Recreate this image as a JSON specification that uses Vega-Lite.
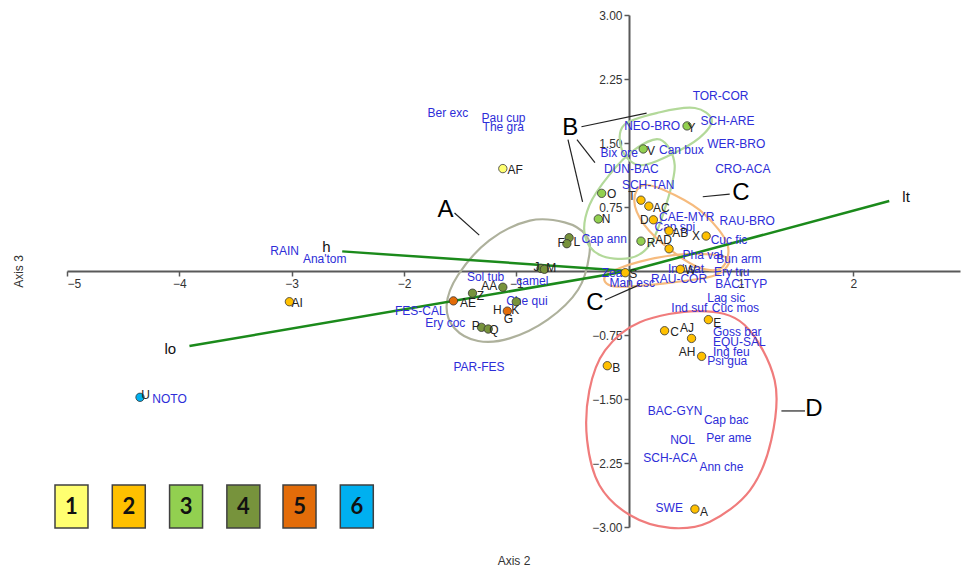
{
  "$schema": "https://vega.github.io/schema/vega-lite/v6.json",
  "width": 893,
  "height": 512,
  "autosize": {"type": "none"},
  "padding": {"left": 67, "top": 15, "right": 1, "bottom": 43},
  "background": "white",
  "config": {"view": {"stroke": null}, "font": "Liberation Sans"},
  "datasets": {
    "pts": [
      {"id": "AF", "x": -1.12, "y": 1.2, "g": "1"},
      {"id": "Y", "x": 0.52, "y": 1.7, "g": "3"},
      {"id": "V", "x": 0.13, "y": 1.43, "g": "3"},
      {"id": "O", "x": -0.24, "y": 0.91, "g": "3"},
      {"id": "N", "x": -0.27, "y": 0.61, "g": "3"},
      {"id": "L", "x": -0.53, "y": 0.39, "g": "4"},
      {"id": "F", "x": -0.55, "y": 0.32, "g": "4"},
      {"id": "R", "x": 0.11, "y": 0.35, "g": "3"},
      {"id": "T", "x": 0.11, "y": 0.83, "g": "2"},
      {"id": "AC", "x": 0.18, "y": 0.76, "g": "2"},
      {"id": "D", "x": 0.22, "y": 0.6, "g": "2"},
      {"id": "AB", "x": 0.36, "y": 0.47, "g": "2"},
      {"id": "X", "x": 0.69, "y": 0.41, "g": "2"},
      {"id": "AD", "x": 0.36, "y": 0.26, "g": "2"},
      {"id": "W", "x": 0.46, "y": 0.02, "g": "2"},
      {"id": "S", "x": -0.03, "y": -0.02, "g": "2"},
      {"id": "J", "x": -0.78, "y": 0.03, "g": "4"},
      {"id": "M", "x": -0.75, "y": 0.02, "g": "4"},
      {"id": "AA", "x": -1.12, "y": -0.19, "g": "4"},
      {"id": "Z", "x": -1.39, "y": -0.26, "g": "4"},
      {"id": "AE", "x": -1.56, "y": -0.35, "g": "5"},
      {"id": "K", "x": -1.0, "y": -0.36, "g": "4"},
      {"id": "H", "x": -1.08, "y": -0.47, "g": "5"},
      {"id": "P", "x": -1.31, "y": -0.66, "g": "4"},
      {"id": "Q", "x": -1.25, "y": -0.68, "g": "4"},
      {"id": "AI", "x": -3.02, "y": -0.36, "g": "2"},
      {"id": "U", "x": -4.35, "y": -1.48, "g": "6"},
      {"id": "C", "x": 0.32, "y": -0.7, "g": "2"},
      {"id": "AJ", "x": 0.56, "y": -0.79, "g": "2"},
      {"id": "E", "x": 0.71, "y": -0.57, "g": "2"},
      {"id": "AH", "x": 0.65, "y": -1.0, "g": "2"},
      {"id": "B", "x": -0.19, "y": -1.11, "g": "2"},
      {"id": "A", "x": 0.59, "y": -2.79, "g": "2"}
    ],
    "plab": [
      {"t": "AF", "x": -1.01, "y": 1.18},
      {"t": "Y", "x": 0.56, "y": 1.68},
      {"t": "V", "x": 0.2, "y": 1.41},
      {"t": "O", "x": -0.15, "y": 0.9},
      {"t": "N", "x": -0.2, "y": 0.61},
      {"t": "F", "x": -0.6, "y": 0.33},
      {"t": "L", "x": -0.46, "y": 0.34},
      {"t": "R", "x": 0.2, "y": 0.33},
      {"t": "T", "x": 0.03, "y": 0.88},
      {"t": "AC", "x": 0.29, "y": 0.74},
      {"t": "D", "x": 0.14, "y": 0.6},
      {"t": "AB", "x": 0.46, "y": 0.45},
      {"t": "X", "x": 0.6, "y": 0.41},
      {"t": "AD", "x": 0.31, "y": 0.36},
      {"t": "W", "x": 0.55, "y": 0.01},
      {"t": "S", "x": 0.04, "y": -0.04},
      {"t": "J", "x": -0.82, "y": 0.05},
      {"t": "M", "x": -0.69, "y": 0.04},
      {"t": "AA", "x": -1.24, "y": -0.18},
      {"t": "Z", "x": -1.32, "y": -0.29},
      {"t": "AE", "x": -1.43, "y": -0.38},
      {"t": "H", "x": -1.17, "y": -0.46},
      {"t": "K", "x": -1.01, "y": -0.46},
      {"t": "G", "x": -1.07, "y": -0.56},
      {"t": "P", "x": -1.36, "y": -0.65},
      {"t": "Q", "x": -1.2, "y": -0.69},
      {"t": "AI", "x": -2.95, "y": -0.38},
      {"t": "U", "x": -4.3, "y": -1.45},
      {"t": "C", "x": 0.41, "y": -0.72},
      {"t": "AJ", "x": 0.52, "y": -0.67},
      {"t": "E", "x": 0.79, "y": -0.61},
      {"t": "AH", "x": 0.52, "y": -0.95},
      {"t": "B", "x": -0.11, "y": -1.14},
      {"t": "A", "x": 0.67, "y": -2.83}
    ],
    "sp": [
      {"t": "TOR-COR", "x": 0.57, "y": 2.05},
      {"t": "SCH-ARE", "x": 0.64, "y": 1.76},
      {"t": "NEO-BRO", "x": -0.04, "y": 1.7},
      {"t": "WER-BRO", "x": 0.7, "y": 1.49},
      {"t": "Can bux", "x": 0.27, "y": 1.42},
      {"t": "Bix ore", "x": -0.25, "y": 1.38},
      {"t": "CRO-ACA", "x": 0.77, "y": 1.2},
      {"t": "DUN-BAC", "x": -0.22, "y": 1.2},
      {"t": "SCH-TAN", "x": -0.06, "y": 1.01},
      {"t": "Ber exc", "x": -1.79, "y": 1.85},
      {"t": "Pau cup", "x": -1.31, "y": 1.79},
      {"t": "The gra", "x": -1.3, "y": 1.69},
      {"t": "CAE-MYR", "x": 0.27, "y": 0.63},
      {"t": "Cap spi", "x": 0.23, "y": 0.52},
      {"t": "RAU-BRO", "x": 0.81, "y": 0.59},
      {"t": "Cuc fic", "x": 0.73, "y": 0.36},
      {"t": "Cap ann", "x": -0.42, "y": 0.38},
      {"t": "Pha val", "x": 0.48, "y": 0.19},
      {"t": "Bun arm", "x": 0.78, "y": 0.14},
      {"t": "Ery tru", "x": 0.76, "y": -0.01},
      {"t": "Ind sat", "x": 0.35, "y": 0.02},
      {"t": "RAU-COR", "x": 0.2, "y": -0.09},
      {"t": "BAC-TYP", "x": 0.77, "y": -0.15},
      {"t": "Zea", "x": -0.24, "y": -0.02},
      {"t": "Man esc", "x": -0.17, "y": -0.14},
      {"t": "Lag sic", "x": 0.7, "y": -0.32},
      {"t": "Ind suf", "x": 0.38, "y": -0.43},
      {"t": "Cuc mos", "x": 0.74, "y": -0.43},
      {"t": "Goss bar", "x": 0.75, "y": -0.72},
      {"t": "EQU-SAL", "x": 0.75, "y": -0.83},
      {"t": "Ing feu", "x": 0.75, "y": -0.95},
      {"t": "Psi gua", "x": 0.7, "y": -1.06},
      {"t": "BAC-GYN", "x": 0.17, "y": -1.64},
      {"t": "Cap bac", "x": 0.67, "y": -1.75},
      {"t": "NOL", "x": 0.37, "y": -1.98},
      {"t": "Per ame", "x": 0.69, "y": -1.96},
      {"t": "SCH-ACA", "x": 0.13, "y": -2.19},
      {"t": "Ann che", "x": 0.63, "y": -2.3},
      {"t": "SWE", "x": 0.24, "y": -2.78},
      {"t": "Sol tub", "x": -1.44, "y": -0.07},
      {"t": "camel", "x": -1.0, "y": -0.12},
      {"t": "Che qui", "x": -1.09, "y": -0.35},
      {"t": "FES-CAL", "x": -2.08, "y": -0.47},
      {"t": "Ery coc", "x": -1.81, "y": -0.61},
      {"t": "PAR-FES", "x": -1.56, "y": -1.13},
      {"t": "NOTO", "x": -4.24, "y": -1.5},
      {"t": "RAIN", "x": -3.19, "y": 0.23},
      {"t": "Ana'tom", "x": -2.9, "y": 0.14}
    ],
    "ell": [
      {"e": "A", "o": 1, "x": -0.88, "y": 0.59},
      {"e": "A", "o": 2, "x": -0.57, "y": 0.57},
      {"e": "A", "o": 3, "x": -0.38, "y": 0.42},
      {"e": "A", "o": 4, "x": -0.35, "y": 0.19},
      {"e": "A", "o": 5, "x": -0.45, "y": -0.22},
      {"e": "A", "o": 6, "x": -0.72, "y": -0.57},
      {"e": "A", "o": 7, "x": -1.06, "y": -0.79},
      {"e": "A", "o": 8, "x": -1.34, "y": -0.82},
      {"e": "A", "o": 9, "x": -1.55, "y": -0.67},
      {"e": "A", "o": 10, "x": -1.62, "y": -0.4},
      {"e": "A", "o": 11, "x": -1.52, "y": -0.05},
      {"e": "A", "o": 12, "x": -1.24, "y": 0.36},
      {"e": "B1", "o": 1, "x": -0.04, "y": 1.71},
      {"e": "B1", "o": 2, "x": 0.28, "y": 1.86},
      {"e": "B1", "o": 3, "x": 0.59, "y": 1.91},
      {"e": "B1", "o": 4, "x": 0.74, "y": 1.77},
      {"e": "B1", "o": 5, "x": 0.63, "y": 1.56},
      {"e": "B1", "o": 6, "x": 0.37, "y": 1.36},
      {"e": "B1", "o": 7, "x": 0.1, "y": 1.24},
      {"e": "B1", "o": 8, "x": -0.06, "y": 1.42},
      {"e": "B2", "o": 1, "x": 0.28, "y": 1.54},
      {"e": "B2", "o": 2, "x": 0.41, "y": 1.24},
      {"e": "B2", "o": 3, "x": 0.32, "y": 0.72},
      {"e": "B2", "o": 4, "x": 0.19, "y": 0.31},
      {"e": "B2", "o": 5, "x": 0.01, "y": 0.15},
      {"e": "B2", "o": 6, "x": -0.26, "y": 0.19},
      {"e": "B2", "o": 7, "x": -0.39, "y": 0.42},
      {"e": "B2", "o": 8, "x": -0.35, "y": 0.77},
      {"e": "B2", "o": 9, "x": -0.17, "y": 1.13},
      {"e": "B2", "o": 10, "x": 0.05, "y": 1.42},
      {"e": "C1", "o": 1, "x": 0.14, "y": 1.01},
      {"e": "C1", "o": 2, "x": 0.41, "y": 0.89},
      {"e": "C1", "o": 3, "x": 0.68, "y": 0.66},
      {"e": "C1", "o": 4, "x": 0.88, "y": 0.31},
      {"e": "C1", "o": 5, "x": 0.83, "y": 0.04},
      {"e": "C1", "o": 6, "x": 0.63, "y": 0.04},
      {"e": "C1", "o": 7, "x": 0.37, "y": 0.25},
      {"e": "C1", "o": 8, "x": 0.14, "y": 0.54},
      {"e": "C1", "o": 9, "x": 0.05, "y": 0.83},
      {"e": "C2", "o": 1, "x": -0.2, "y": -0.05},
      {"e": "C2", "o": 2, "x": 0.1, "y": 0.11},
      {"e": "C2", "o": 3, "x": 0.54, "y": 0.2},
      {"e": "C2", "o": 4, "x": 0.88, "y": 0.15},
      {"e": "C2", "o": 5, "x": 0.77, "y": -0.05},
      {"e": "C2", "o": 6, "x": 0.28, "y": -0.15},
      {"e": "C2", "o": 7, "x": -0.13, "y": -0.18},
      {"e": "D", "o": 1, "x": 0.63, "y": -0.47},
      {"e": "D", "o": 2, "x": 1.03, "y": -0.63},
      {"e": "D", "o": 3, "x": 1.3, "y": -1.28},
      {"e": "D", "o": 4, "x": 1.27, "y": -1.98},
      {"e": "D", "o": 5, "x": 1.08, "y": -2.57},
      {"e": "D", "o": 6, "x": 0.72, "y": -2.94},
      {"e": "D", "o": 7, "x": 0.37, "y": -3.01},
      {"e": "D", "o": 8, "x": 0.01, "y": -2.86},
      {"e": "D", "o": 9, "x": -0.26, "y": -2.51},
      {"e": "D", "o": 10, "x": -0.37, "y": -1.98},
      {"e": "D", "o": 11, "x": -0.35, "y": -1.4},
      {"e": "D", "o": 12, "x": -0.21, "y": -0.93},
      {"e": "D", "o": 13, "x": 0.1, "y": -0.6}
    ],
    "vec": [
      {"v": "h", "x": 0, "y": 0, "x2": -2.55, "y2": 0.23},
      {"v": "lo", "x": 0, "y": 0, "x2": -3.91, "y2": -0.88},
      {"v": "lt", "x": 0, "y": 0, "x2": 2.32, "y2": 0.82}
    ],
    "vlab": [
      {"t": "h", "x": -2.69, "y": 0.28},
      {"t": "lo", "x": -4.08, "y": -0.91},
      {"t": "lt", "x": 2.47, "y": 0.87}
    ],
    "glab": [
      {"t": "A", "x": -1.63, "y": 0.72},
      {"t": "B", "x": -0.52, "y": 1.68},
      {"t": "C", "x": 1.0, "y": 0.91},
      {"t": "C", "x": -0.3, "y": -0.38},
      {"t": "D", "x": 1.65, "y": -1.62}
    ],
    "lead": [
      {"x": -1.55, "y": 0.68, "x2": -1.33, "y2": 0.42},
      {"x": -0.42, "y": 1.69, "x2": 0.16, "y2": 1.85},
      {"x": -0.46, "y": 1.54, "x2": -0.3, "y2": 1.27},
      {"x": -0.54, "y": 1.54, "x2": -0.41, "y2": 0.81},
      {"x": 0.66, "y": 0.87, "x2": 0.9, "y2": 0.9},
      {"x": -0.21, "y": -0.34, "x2": 0.1, "y2": -0.16},
      {"x": 1.36, "y": -1.64, "x2": 1.57, "y2": -1.64}
    ],
    "leg": [
      {"g": "1", "x": -4.96, "y": -2.76},
      {"g": "2", "x": -4.45, "y": -2.76},
      {"g": "3", "x": -3.94, "y": -2.76},
      {"g": "4", "x": -3.43, "y": -2.76},
      {"g": "5", "x": -2.93, "y": -2.76},
      {"g": "6", "x": -2.42, "y": -2.76}
    ]
  },
  "encoding": {
    "x": {
      "field": "x", "type": "quantitative",
      "scale": {"domain": [-5, 2.95], "nice": false, "zero": false},
      "axis": {
        "orient": "bottom", "offset": -256,
        "values": [-5, -4, -3, -2, -1, 1, 2], "format": "d",
        "labelFont": "Liberation Sans", "labelFontSize": 12, "labelColor": "#333333",
        "labelPadding": 2, "labelOverlap": false,
        "tickColor": "#595959", "tickSize": 5, "tickWidth": 1.5,
        "domainColor": "#595959", "domainWidth": 2, "grid": false,
        "title": "Axis 2", "titleFont": "Liberation Sans", "titleFontSize": 12,
        "titleFontWeight": "normal", "titleColor": "#333333",
        "titleY": 289, "titleBaseline": "middle"
      }
    },
    "y": {
      "field": "y", "type": "quantitative",
      "scale": {"domain": [-3, 3], "nice": false, "zero": false},
      "axis": {
        "orient": "left", "offset": -562,
        "values": [-3, -2.25, -1.5, -0.75, 0.75, 1.5, 2.25, 3], "format": ".2f",
        "labelFont": "Liberation Sans", "labelFontSize": 12, "labelColor": "#333333",
        "labelPadding": 2, "labelOverlap": false,
        "tickColor": "#595959", "tickSize": 5, "tickWidth": 1.5,
        "domainColor": "#595959", "domainWidth": 2, "grid": false,
        "title": "Axis 3", "titleFont": "Liberation Sans", "titleFontSize": 12,
        "titleFontWeight": "normal", "titleColor": "#333333",
        "titleX": -611, "titleBaseline": "middle"
      }
    }
  },
  "layer": [
    {
      "data": {"name": "ell"},
      "mark": {"type": "line", "interpolate": "cardinal-closed", "strokeWidth": 2.2},
      "encoding": {
        "order": {"field": "o", "type": "quantitative"},
        "detail": {"field": "e"},
        "stroke": {
          "field": "e", "type": "nominal", "legend": null,
          "scale": {"domain": ["A", "B1", "B2", "C1", "C2", "D"],
                    "range": ["#aeb19c", "#b3d99a", "#b3d99a", "#f6bb7e", "#f6bb7e", "#f07c7c"]}
        }
      }
    },
    {
      "data": {"name": "lead"},
      "mark": {"type": "rule", "color": "#222222", "strokeWidth": 1.2},
      "encoding": {"x2": {"field": "x2"}, "y2": {"field": "y2"}}
    },
    {
      "data": {"name": "vec"},
      "mark": {"type": "rule", "color": "#1b8a1b", "strokeWidth": 2.5},
      "encoding": {"x2": {"field": "x2"}, "y2": {"field": "y2"}}
    },
    {
      "data": {"name": "sp"},
      "mark": {"type": "text", "align": "left", "baseline": "middle", "fontSize": 12, "color": "#2d2dd8", "font": "Liberation Sans"},
      "encoding": {"text": {"field": "t"}}
    },
    {
      "data": {"name": "pts"},
      "mark": {"type": "point", "filled": true, "size": 70, "stroke": "#333333", "strokeWidth": 0.8, "opacity": 1},
      "encoding": {
        "fill": {
          "field": "g", "type": "nominal", "legend": null,
          "scale": {"domain": ["1", "2", "3", "4", "5", "6"],
                    "range": ["#ffff70", "#ffc000", "#92d050", "#77933c", "#e36c09", "#00b0f0"]}
        }
      }
    },
    {
      "data": {"name": "plab"},
      "mark": {"type": "text", "align": "center", "baseline": "middle", "fontSize": 12, "color": "#222222", "font": "Liberation Sans"},
      "encoding": {"text": {"field": "t"}}
    },
    {
      "data": {"name": "vlab"},
      "mark": {"type": "text", "align": "center", "baseline": "middle", "fontSize": 15, "color": "#111111", "font": "Liberation Sans"},
      "encoding": {"text": {"field": "t"}}
    },
    {
      "data": {"name": "glab"},
      "mark": {"type": "text", "align": "center", "baseline": "middle", "fontSize": 24, "color": "#000000", "font": "Liberation Sans"},
      "encoding": {"text": {"field": "t"}}
    },
    {
      "data": {"name": "leg"},
      "mark": {"type": "point", "shape": "M-0.767,-1L0.767,-1L0.767,1L-0.767,1Z", "filled": true, "size": 1849, "stroke": "#404040", "strokeWidth": 1.5, "opacity": 1},
      "encoding": {
        "fill": {"field": "g", "type": "nominal", "legend": null}
      }
    },
    {
      "data": {"name": "leg"},
      "mark": {"type": "text", "align": "center", "baseline": "middle", "fontSize": 22, "fontWeight": "bold", "color": "#111111", "font": "Lato"},
      "encoding": {"text": {"field": "g"}}
    }
  ]
}
